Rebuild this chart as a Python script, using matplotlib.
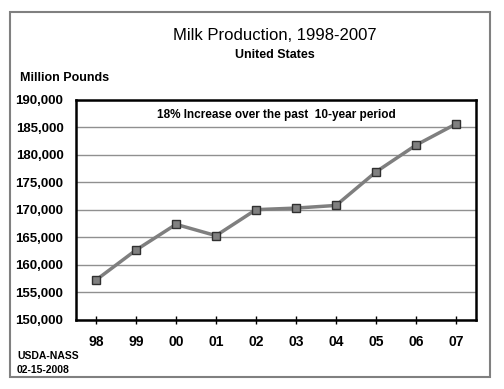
import matplotlib.pyplot as plt
from matplotlib.patches import Rectangle
from matplotlib.ticker import FuncFormatter

plt.rcParams['font.family'] = ['Liberation Sans', 'DejaVu Sans']

years = ['98', '99', '00', '01', '02', '03', '04', '05', '06', '07']
production = [157262, 162716, 167393, 165336, 170063, 170348, 170832, 176931, 181798, 185654]

fig = plt.figure(figsize=(5.04, 3.89), dpi=100)
W, H = 504, 389

# outer frame
fig.patches.append(Rectangle((10 / W, 1 - 377 / H), 480 / W, 365 / H,
                             transform=fig.transFigure, fill=False,
                             edgecolor='#808080', linewidth=1.5))

ax = fig.add_axes([76 / W, 1 - 320 / H, 400 / W, 220 / H])
x = list(range(len(years)))
ax.plot(x, production, color='#7f7f7f', linewidth=2.5, marker='s', markersize=6,
        markerfacecolor='#808080', markeredgecolor='#303030', markeredgewidth=1, zorder=3)

ax.set_xlim(-0.5, len(years) - 0.5)
ax.set_ylim(150000, 190000)
ax.set_yticks(range(150000, 190001, 5000))
ax.yaxis.set_major_formatter(FuncFormatter(lambda v, p: f'{int(v):,}'))
ax.set_xticks(x)
ax.set_xticklabels(years)
ax.grid(axis='y', color='#909090', linewidth=1)
ax.set_axisbelow(True)
for s in ax.spines.values():
    s.set_linewidth(1.8)
    s.set_color('black')
ax.tick_params(axis='y', length=0, pad=9, labelsize=9.5)
ax.tick_params(axis='x', direction='inout', length=6, width=1, pad=8, labelsize=10)
for lab in ax.get_xticklabels() + ax.get_yticklabels():
    lab.set_fontweight('bold')

ax.text(0.5, 0.93, '18% Increase over the past  10-year period', transform=ax.transAxes,
        ha='center', va='center', fontsize=8.5, fontweight='bold')

fig.text(275 / W, 1 - 35 / H, 'Milk Production, 1998-2007', ha='center', va='center', fontsize=12)
fig.text(275 / W, 1 - 55 / H, 'United States', ha='center', va='center', fontsize=9, fontweight='bold')
fig.text(20 / W, 1 - 78 / H, 'Million Pounds', ha='left', va='center', fontsize=9, fontweight='bold')
fig.text(17 / W, 1 - 356 / H, 'USDA-NASS', ha='left', va='center', fontsize=7.5, fontweight='bold')
fig.text(17 / W, 1 - 370 / H, '02-15-2008', ha='left', va='center', fontsize=7.5, fontweight='bold')

fig.savefig('out.png', dpi=100)
